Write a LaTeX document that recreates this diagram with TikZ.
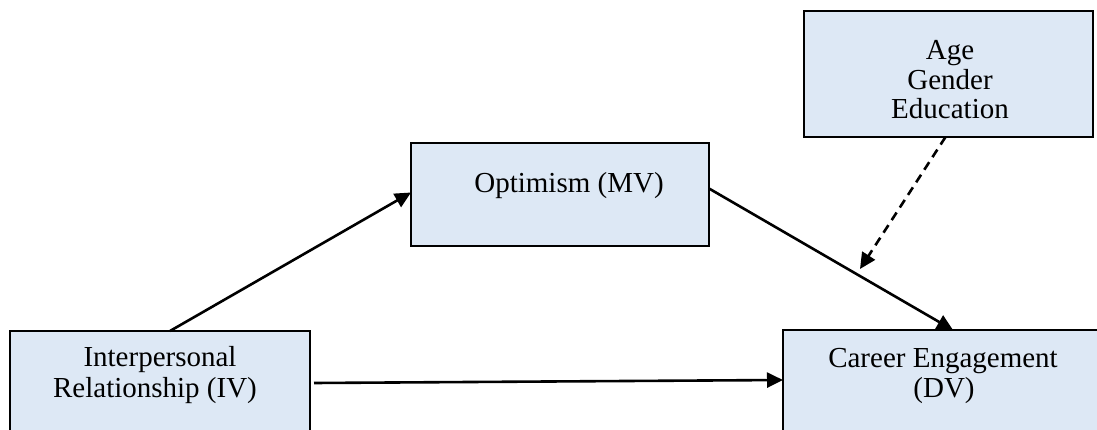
\documentclass[tikz,border=0pt]{standalone}
\usepackage{fontspec}
\setmainfont{Liberation Serif}
\usetikzlibrary{arrows.meta,calc}
\definecolor{boxfill}{RGB}{221,232,245}
\begin{document}
\begin{tikzpicture}[x=1pt,y=-1pt,
  box/.style={draw=black, line width=2.6pt, fill=boxfill, inner sep=0pt, outer sep=0pt, anchor=north west},
  lbl/.style={font=\fontsize{29}{31}\selectfont, inner sep=0pt, anchor=base},
  arr/.style={line width=2.6pt, -{Triangle[length=16pt,width=15pt]}},
  darr/.style={arr, dash pattern=on 9pt off 6pt}]
\useasboundingbox (0,0) rectangle (1097,430);
\clip (0,0) rectangle (1097,430);
% boxes
\node[box, minimum width=300pt, minimum height=140pt] (iv) at (10,331) {};
\node[box, minimum width=330pt, minimum height=140pt] (dv) at (783,330) {};
\node[box, minimum width=298pt, minimum height=103pt] (mv) at (411,143) {};
\node[box, minimum width=289pt, minimum height=126pt] (ctrl) at (804,11) {};
% texts
\node[lbl] (iv1) at (160,366) {Interpersonal};
\node[lbl] (iv2) at (155,397) {Relationship (IV)};
\node[lbl] (mv1) at (569,193) {Optimism (MV)};
\node[lbl] (dv1) at (943,367) {Career Engagement};
\node[lbl] (dv2) at (944,397) {(DV)};
\node[lbl] (c1) at (950,60) {Age};
\node[lbl] (c2) at (950,90) {Gender};
\node[lbl] (c3) at (950,119) {Education};
% connectors
\draw[arr] ([xshift=160pt]iv.north west) -- ([yshift=2pt]mv.west);
\draw[arr] ([yshift=6pt]mv.east) -- ([xshift=170pt]dv.north west);
\draw[arr] ([xshift=4pt,yshift=-52pt]iv.north east) -- ([yshift=-50pt]dv.north west);
\coordinate (mod) at (860,269);
\draw[darr] ([xshift=-3pt]ctrl.south) -- (mod);
\end{tikzpicture}
\end{document}
